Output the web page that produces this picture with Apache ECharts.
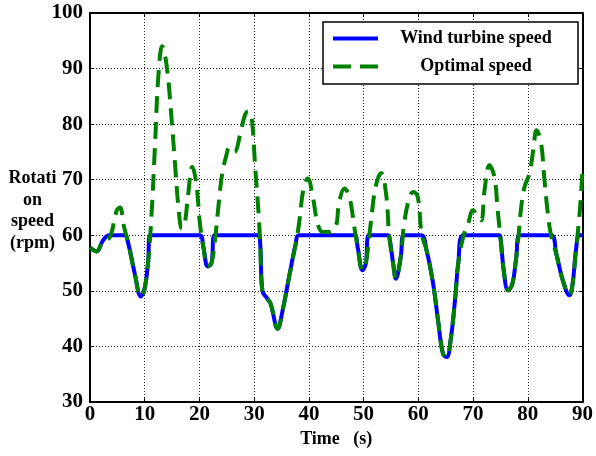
<!DOCTYPE html>
<html><head><meta charset="utf-8">
<script src="https://cdn.jsdelivr.net/npm/echarts@6/dist/echarts.min.js"></script>
<style>html,body{margin:0;padding:0;background:#fff}#c{width:596px;height:456px}</style>
</head><body><div id="c"></div>
<script>
var xTicks = [0,10,20,30,40,50,60,70,80,90];
var yTicks = [30,40,50,60,70,80,90,100];
var windTime = [0,1.2,2.4,3.5,6.3,7,8.2,9.3,9.9,10.6,11,20,20.7,21.5,22.2,22.8,30.7,31.1,31.5,32.4,33,34.3,35.2,36.4,37.6,38.2,48.3,48.9,49.8,50.4,51,54.4,54.7,55.4,55.9,56.8,57.3,60.5,61.5,62.7,63.6,64.5,65.2,65.9,66.7,67.3,68.2,74.7,75,75.6,76.4,77.2,77.9,78.5,84.2,85.2,86.4,87.6,88.2,88.8,89.4,90];
var windSpeed = [57.8,57.1,59.1,60,60,58.5,53,49,50,55,60,60,58,54.4,55,60,60,58.5,50,48.6,47.7,43.2,46.5,52.6,58.5,60,60,57.9,53.7,54.9,60,60,59.7,54.9,52.2,56.2,60,60,57.3,51.3,44.7,38.7,38.1,41.1,48.3,55,60,60,59.7,53.7,50.1,51.3,56.1,60,60,56.7,51.9,49.2,51.3,57.3,60,60];
var optTime = [0,1.2,2.4,3.6,4.9,5.5,6.1,7,8.2,9.3,9.9,10.6,11.2,11.9,12.5,13.2,14,14.9,15.6,16.2,16.8,17.3,17.9,18.7,19.4,20.1,20.7,21.5,22.2,22.9,23.4,24.1,24.9,25.5,26.4,27.4,28.3,28.9,29.5,30.2,30.8,31.1,31.5,32.4,33,34.3,35.2,36.4,37.6,38.2,39,39.8,40.7,41.6,42.5,43.7,44.9,45.5,46.5,47.4,48.3,48.9,49.8,50.4,51.3,52.2,53.2,54.1,54.7,55.4,55.9,56.8,57.4,58.4,59.1,59.9,60.6,61.5,62.7,63.6,64.5,65.2,65.9,66.7,67.3,68.2,69.1,70,70.9,71.5,72.1,73,73.9,74.5,75,75.6,76.4,77.2,77.9,78.4,78.8,79.4,80.3,81,81.6,82.4,83,83.6,84.2,85.2,86.4,87.6,88.2,88.8,89.3,89.7,90];
var optSpeed = [57.8,57.1,59.1,59.6,64.5,65,62,58.5,53,49,50,55,63,76.7,88.8,94,90.6,81,72,64.7,61.2,62,67,72.3,69.5,62,58,54.4,55,59.7,64.5,70.7,74.3,75.8,75,78,81.6,82.3,81.5,72,64,58.5,50,48.6,47.7,43.2,46.5,52.6,58.5,62.1,68.3,70.2,67,62.1,60.6,60.6,61.5,65.7,68.4,66.9,61.5,57.9,53.7,54.9,62.1,68.7,71.2,67.5,59.7,54.9,52.2,56.2,62.1,66.9,67.8,66.9,60.3,57.3,51.3,44.7,38.7,38.1,41.1,48.3,55,59.7,62.1,64.5,63.3,62.7,68.1,72.6,70.5,64.5,59.7,53.7,50.1,51.3,56.1,60.9,65.1,68.7,71.1,75.3,78.9,76.8,70.5,64.5,60.3,56.7,51.9,49.2,51.3,57.3,62.1,66.9,71.7];
var seriesNames = ['Wind turbine speed','Optimal speed'];
var xName = 'Time   (s)';
var yName = 'Rotati\non\nspeed\n(rpm)';

function pairs(t, v){ return t.map(function(x,i){ return [x, v[i]]; }); }
var font = '"Liberation Serif", "Times New Roman", serif';
var chart = echarts.init(document.getElementById('c'), null, {renderer:'canvas'});
var axisLine = {show:true, onZero:false, lineStyle:{color:'#000', width:2}};
var axisTick = {show:true, inside:true, length:4, lineStyle:{color:'#000', width:1}};
var grid = {show:true, lineStyle:{color:'#222', type:[1,2], width:1}};
chart.setOption({
  animation:false,
  backgroundColor:'#fff',
  grid:{left:90, right:11, top:13, bottom:54, containLabel:false},
  legend:{
    data:[
      {name:seriesNames[0], icon:'path://M0,0H45V4H0Z', itemStyle:{color:'#0000ff'}},
      {name:seriesNames[1], icon:'path://M0,0H18V4H0Z M27,0H45V4H27Z', itemStyle:{color:'#008000'}}
    ],
    orient:'vertical', left:323, top:22,
    backgroundColor:'#fff', borderColor:'#000', borderWidth:1.5, borderRadius:0,
    padding:[6,9,7,10], itemGap:7, itemWidth:45, itemHeight:4,
    formatter:function(n){ return '{a|'+n+'}'; },
    textStyle:{fontFamily:font, fontWeight:'bold', fontSize:18, color:'#000',
      rich:{a:{width:186, height:21, lineHeight:21, align:'center', fontFamily:font, fontWeight:'bold', fontSize:18, color:'#000'}}}
  },
  xAxis:[{
    type:'value', min:xTicks[0], max:xTicks[xTicks.length-1], interval:10,
    name:xName, nameLocation:'middle', nameGap:27,
    nameTextStyle:{fontFamily:font, fontWeight:'bold', fontSize:18, color:'#000'},
    axisLine:axisLine, axisTick:axisTick,
    axisLabel:{margin:2, fontFamily:font, fontWeight:'bold', fontSize:21, color:'#000'},
    splitLine:grid
  },{
    type:'value', position:'top', min:xTicks[0], max:xTicks[xTicks.length-1], interval:10,
    axisLine:axisLine, axisTick:axisTick, axisLabel:{show:false}, splitLine:{show:false}
  }],
  yAxis:[{
    type:'value', min:yTicks[0], max:yTicks[yTicks.length-1], interval:10,
    axisLine:axisLine, axisTick:axisTick,
    axisLabel:{margin:7, fontFamily:font, fontWeight:'bold', fontSize:21, color:'#000'},
    splitLine:grid
  },{
    type:'value', position:'right', min:yTicks[0], max:yTicks[yTicks.length-1], interval:10,
    axisLine:axisLine, axisTick:axisTick, axisLabel:{show:false}, splitLine:{show:false}
  }],
  graphic:[{
    type:'text', x:32.5, y:168,
    style:{text:yName, fontFamily:font, fontWeight:'bold', fontSize:18, fill:'#000', align:'center', lineHeight:21.5}
  }],
  series:[{
    name:seriesNames[0], type:'line', data:pairs(windTime, windSpeed),
    symbol:'none', showSymbol:false, smooth:0.4,
    lineStyle:{color:'#0000ff', width:4}, itemStyle:{color:'#0000ff'}, z:2
  },{
    name:seriesNames[1], type:'line', data:pairs(optTime, optSpeed),
    symbol:'none', showSymbol:false, smooth:0.4,
    lineStyle:{color:'#008000', width:4, type:[17,9]}, itemStyle:{color:'#008000'}, z:3
  }]
});
</script></body></html>
